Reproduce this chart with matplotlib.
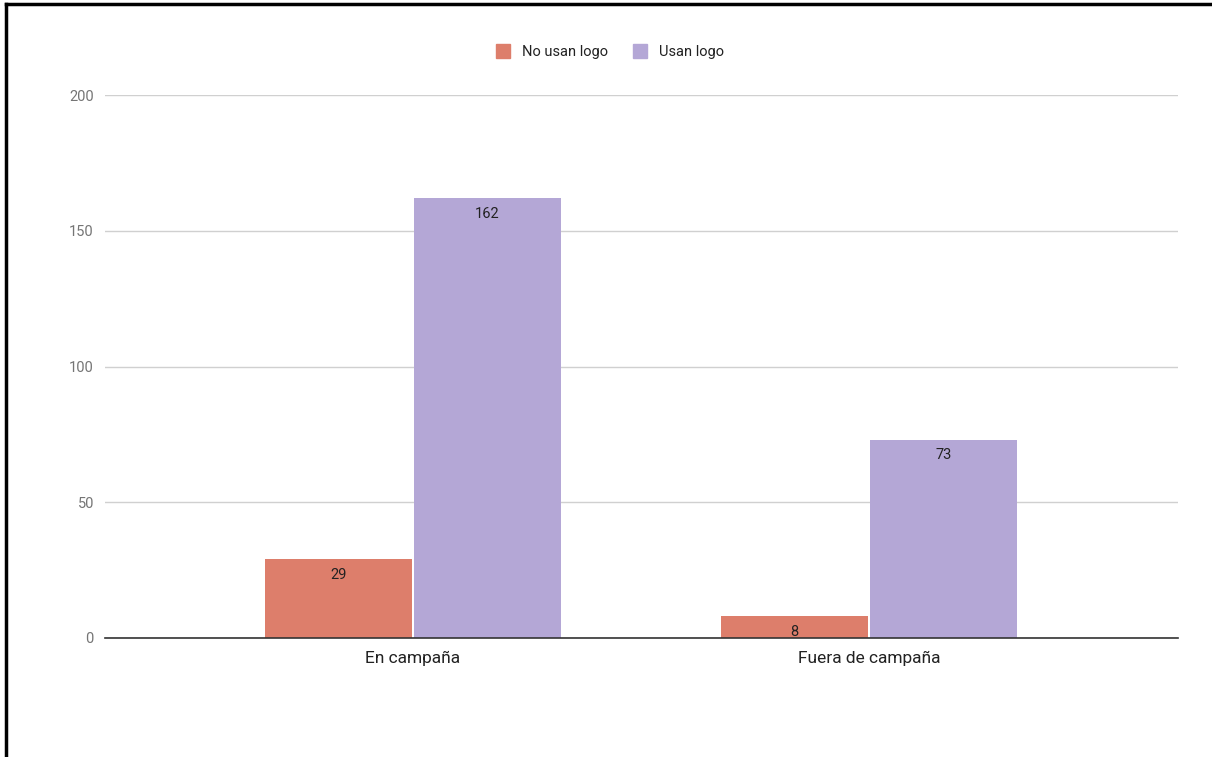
import numpy as np
import matplotlib.pyplot as plt
from matplotlib.lines import Line2D

categorias = ["En campaña", "Fuera de campaña"]
series = ["No usan logo", "Usan logo"]
no_usan_logo = [29, 8]
usan_logo = [162, 73]
colores = ["#dd7e6b", "#b4a7d6"]

plt.rcParams['font.family'] = ['Roboto', 'DejaVu Sans']

fig = plt.figure(figsize=(12.12, 7.57), dpi=100)
ax = fig.add_axes([0.0866, 0.1572, 0.9720 - 0.0866, 0.8745 - 0.1572])

x = np.arange(len(categorias))
w = 0.322
gap = 0.002
b1 = ax.bar(x - w / 2 - gap, no_usan_logo, w, color=colores[0], zorder=3)
b2 = ax.bar(x + w / 2 + gap, usan_logo, w, color=colores[1], zorder=3)

# etiquetas de valor dentro de la barra, cerca del borde superior
for bars, vals in ((b1, no_usan_logo), (b2, usan_logo)):
    for r, v in zip(bars, vals):
        ax.annotate(str(v), (r.get_x() + r.get_width() / 2, v), xytext=(0, -6),
                    textcoords="offset points", ha="center", va="top",
                    fontsize=10.5, color="#222222", zorder=4)

ax.set_xlim(-0.675, 1.678)
ax.set_ylim(0, 200)
ax.set_yticks([0, 50, 100, 150, 200])
ax.set_xticks(x)
ax.set_xticklabels(categorias, fontsize=12.5, color="#222222")
ax.tick_params(axis="x", length=0, pad=9)
ax.tick_params(axis="y", length=0, pad=8, labelsize=10.5, labelcolor="#757575")
ax.grid(axis="y", color="#d0d0d0", linewidth=1, zorder=0)
for s in ["top", "right", "left"]:
    ax.spines[s].set_visible(False)
ax.spines["bottom"].set_color("#333333")
ax.spines["bottom"].set_linewidth(1.2)
ax.spines["bottom"].set_zorder(5)

handles = [Line2D([], [], marker="s", linestyle="none", markersize=10,
                  markerfacecolor=c, markeredgecolor=c) for c in colores]
fig.legend(handles, series, loc="center", bbox_to_anchor=(0.5, 1 - 52 / 757),
           ncol=2, frameon=False, fontsize=10.5, handletextpad=0.3,
           columnspacing=1.2, labelcolor="#222222")

# marco negro del recorte (izquierda y arriba)
fig.add_artist(Line2D([6 / 1212, 6 / 1212], [0, 1 - 4 / 757], color="black", lw=2.5))
fig.add_artist(Line2D([6 / 1212, 1], [1 - 4 / 757, 1 - 4 / 757], color="black", lw=2.5))

fig.savefig("out.png", dpi=100)
